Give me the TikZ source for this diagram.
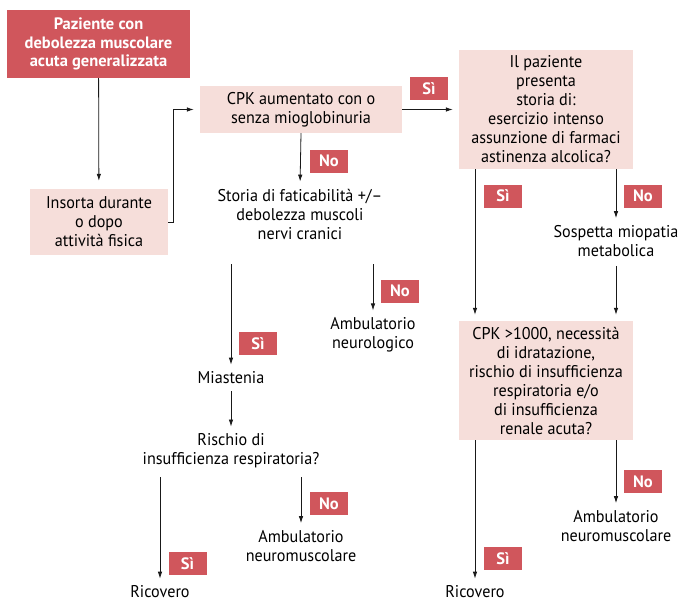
\documentclass[tikz,border=0pt]{standalone}
\usepackage{fontspec}
\setmainfont{PT Sans}[FakeStretch=0.95, BoldFeatures={FakeStretch=1.0}]
\usetikzlibrary{arrows.meta}
\usetikzlibrary{positioning}
\definecolor{flowred}{RGB}{208,86,92}
\definecolor{flowpink}{RGB}{246,222,218}
\begin{document}
\begin{tikzpicture}[
    x=1pt, y=-1pt,
    font=\fontsize{17}{19}\selectfont,
    every path/.style={-{Latex[length=7pt, width=4.5pt]}},
    link/.style={draw=black!90, line width=0.8pt, shorten >=6pt},
    redbox/.style={rectangle, fill=flowred, text=white, font=\fontsize{16.5}{18.5}\selectfont\bfseries, align=center},
    pinkbox/.style={rectangle, fill=flowpink, align=center},
    answer/.style={rectangle, fill=flowred, text=white, font=\fontsize{16.5}{19}\selectfont\bfseries, minimum width=38, minimum height=23, inner sep=0},
    outcome/.style={align=center, inner sep=1pt},
    ]
    \useasboundingbox (0,0) rectangle (678,603);

    % boxes
    \node (start) [redbox, minimum width=183, minimum height=68] at (98.5,44) {Paziente con\\debolezza muscolare\\acuta generalizzata};
    \node (insorta) [pinkbox, minimum width=138, minimum height=66] at (99,222) {Insorta durante\\o dopo\\attività fisica};
    \node (cpk) [pinkbox, minimum width=202, minimum height=47] at (301,109.5) {CPK aumentato con o\\senza mioglobinuria};
    \node (paziente) [pinkbox, minimum width=174, minimum height=119] at (546,109.5) {Il paziente\\presenta\\storia di:\\esercizio intenso\\assunzione di farmaci\\astinenza alcolica?};
    \node (cpkmille) [pinkbox, minimum width=174, minimum height=119] at (546,380.5) {CPK >1000, necessità\\di idratazione,\\rischio di insufficienza\\respiratoria e/o\\di insufficienza\\renale acuta?};

    % plain text steps
    \node (storia) [outcome] at (300,214) {Storia di faticabilità +/–\\debolezza muscoli\\nervi cranici};
    \node (sospetta) [outcome] at (616,241) {Sospetta miopatia\\metabolica};
    \node (miastenia) [outcome] at (231,378) {Miastenia};
    \node (rischio) [outcome] at (231,451) {Rischio di\\insufficienza respiratoria?};
    \node (neurologico) [outcome] at (373,335) {Ambulatorio\\neurologico};
    \node (neuromuscA) [outcome] at (301,546) {Ambulatorio\\neuromuscolare};
    \node (neuromuscB) [outcome] at (616,526) {Ambulatorio\\neuromuscolare};
    \node (ricoveroA) [outcome] at (160,592) {Ricovero};
    \node (ricoveroB) [outcome] at (475,592) {Ricovero};

    % yes / no tags
    \foreach \n/\t/\x/\y in {
        siA/Sì/429/88.5, noA/No/329/161, siB/Sì/503/196, noB/No/643/196,
        noC/No/400/291, siC/Sì/258/343.5, noD/No/329/503.5, siD/Sì/187.5/563.5,
        siE/Sì/503/558.5, noE/No/643/481.5} {
        \node (\n) [answer] at (\x,\y) {\t};
    }

    \draw [link, shorten >=8pt] (start) -- (insorta);
    \draw [link] (insorta.east) -- ++(5,0) |- (cpk.west);
    \draw [link] (cpk) -- (paziente);
    \draw [link] (cpk.south) -- (storia.north);
    \draw [link, shorten <=24pt] (storia.south -| miastenia) -- (miastenia.north);
    \draw [link, shorten <=24pt] (storia.south -| neurologico) -- (neurologico.north);
    \draw [link, shorten <=6pt] (miastenia) -- (rischio);
    \draw [link, shorten <=8pt] (rischio.south -| ricoveroA) -- (ricoveroA.north);
    \draw [link, shorten <=8pt] (rischio.south -| neuromuscA) -- (neuromuscA.north);
    \draw [link] (paziente.south -| ricoveroB) -- (cpkmille.north -| ricoveroB);
    \draw [link] (paziente.south -| sospetta) -- (sospetta.north);
    \draw [link, shorten <=8pt] (sospetta) -- (cpkmille.north -| sospetta);
    \draw [link] (cpkmille.south -| ricoveroB) -- (ricoveroB);
    \draw [link] (cpkmille.south -| neuromuscB) -- (neuromuscB);
\end{tikzpicture}
\end{document}
